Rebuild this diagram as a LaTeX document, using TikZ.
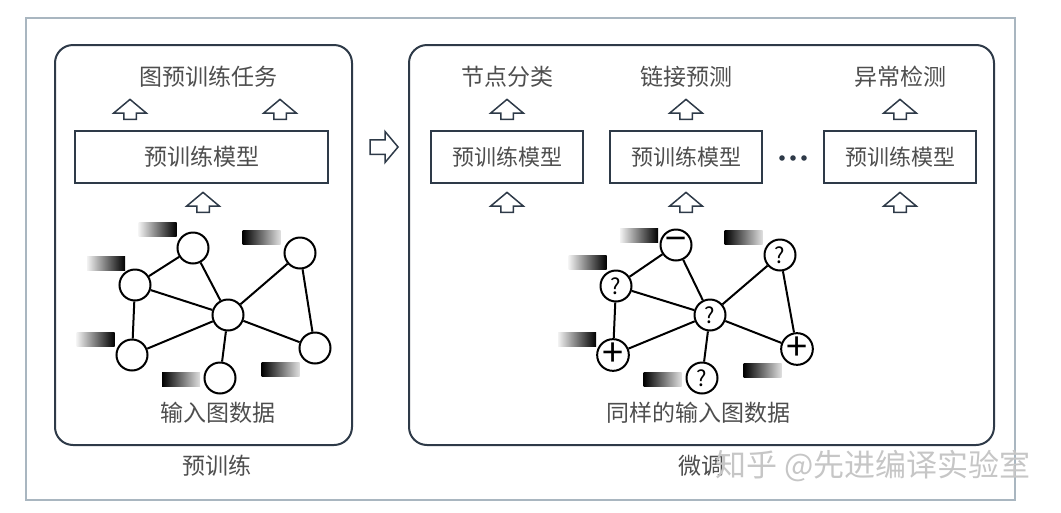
\documentclass[tikz,border=0pt]{standalone}
\usepackage{fontspec}
\setmainfont{Noto Sans CJK SC}
\usetikzlibrary{shapes.arrows}
\definecolor{txtgray}{HTML}{4E4E4E}
\definecolor{framegray}{HTML}{A9B6C0}
\definecolor{linedark}{HTML}{2E3A48}
\tikzset{
  cn/.style={font=\fontsize{23}{23}\selectfont, text=txtgray},
  modelbox/.style={draw=linedark, line width=1.8pt, minimum height=52pt, inner sep=0pt, text=txtgray},
  uparr/.style={single arrow, draw=linedark, line width=1.5pt, fill=white, rotate=90,
    minimum height=20pt, minimum width=31pt, single arrow head extend=10pt, single arrow tip angle=100,
    inner xsep=0pt, inner ysep=5.5pt},
  gnode/.style={circle, draw, line width=2pt, minimum size=31pt, inner sep=0pt, fill=white,
    font=\fontsize{22}{22}\selectfont},
  pm/.style={font=\fontsize{38}{38}\selectfont},
  gedge/.style={line width=2pt},
  flight/.style={minimum width=38pt, minimum height=14pt, inner sep=0pt, left color=gray!10, right color=black},
  fdark/.style={minimum width=38pt, minimum height=14pt, inner sep=0pt, left color=black, right color=gray!25},
}
\begin{document}
\begin{tikzpicture}[x=1pt,y=-1pt]
\useasboundingbox (0,0) rectangle (1061,512);
\pgfmathsetmacro{\ptop}{45};
\pgfmathsetmacro{\pbot}{445};
\draw[framegray, line width=1.2pt] (26,18) rectangle (1015,500);
\draw[linedark, line width=2pt, rounded corners=18pt] (55,\ptop) rectangle (352,\pbot);
\draw[linedark, line width=2pt, rounded corners=18pt] (409,\ptop) rectangle (994,\pbot);
% pre-training
\begin{scope}
\node[cn] (task) at (208,77) {图预训练任务};
\node[uparr] (ua1) at (130,112) {};
\node[uparr] (ua2) at (280,112) {};
\node[modelbox, minimum width=253pt, font=\fontsize{23}{23}\selectfont] (model) at (201.5,157) {预训练模型};
\node[uparr] (ua3) at (203,205) {};
\node[gnode] (lt) at (193,248) {};
\node[gnode] (ll) at (135,285) {};
\node[gnode] (lc) at (228,315) {};
\node[gnode] (lr) at (300,253) {};
\node[gnode] (lbl) at (132,355) {};
\node[gnode] (lb) at (220,378) {};
\node[gnode] (lbr) at (315,348) {};
\node[flight] (f1) at (157.5,229) {};
\node[flight] (f2) at (106,263) {};
\node[fdark] (f3) at (261.5,237) {};
\node[flight] (f4) at (95.5,339) {};
\node[fdark] (f5) at (181,379.5) {};
\node[fdark] (f6) at (280.5,369.5) {};
\node[cn] (input) at (218,413) {输入图数据};
\node[cn] (pre) at (217,466) {预训练};
\end{scope}
\node[single arrow, draw=linedark, line width=1.5pt, minimum height=28pt, minimum width=29pt,
  single arrow head extend=8pt, single arrow tip angle=100, inner xsep=0pt, inner ysep=6.5pt] (next) at (381,147) {};
% fine-tuning
\begin{scope}
\foreach \x/\t/\n in {507/节点分类/1, 686/链接预测/2, 900/异常检测/3}{
  \node[cn] (head\n) at (\x,77) {\t};
  \node[uparr] (up\n) at (\x,112) {};
  \node[modelbox, minimum width=152pt, font=\fontsize{22}{22}\selectfont] (ft\n) at (\x,157) {预训练模型};
  \node[uparr] (dn\n) at (\x,205) {};
}
\foreach \i in {-1,0,1}
  \fill[linedark] (793+\i*11,158) circle (2.8pt);
\node[gnode, pm] (rt) at (676,245) {−};
\node[gnode] (rl) at (616,286) {?};
\node[gnode] (rc) at (710,315) {?};
\node[gnode] (rr) at (780,255) {?};
\node[gnode, pm] (rbl) at (613,355) {+};
\node[gnode] (rb) at (702,378) {?};
\node[gnode, pm] (rbr) at (797,349) {+};
\node[flight] (g1) at (639,235.5) {};
\node[flight] (g2) at (587.5,262.5) {};
\node[fdark] (g3) at (743.5,237.5) {};
\node[flight] (g4) at (577,339.5) {};
\node[fdark] (g5) at (662.5,379.5) {};
\node[fdark] (g6) at (762.5,370) {};
\node[cn] (same) at (698,413) {同样的输入图数据};
\node[cn] (tune) at (701,466) {微调};
\end{scope}
\foreach \s in {l,r}
  \foreach \a/\b in {t/l,t/c,l/c,l/bl,bl/c,c/b,c/r,c/br,r/br}
    \draw[gedge] (\s\a) -- (\s\b);
\node[anchor=west, font=\fontsize{31}{31}\selectfont, text=gray!45] (wm) at (712,466) {知乎 @先进编译实验室};
\end{tikzpicture}
\end{document}
